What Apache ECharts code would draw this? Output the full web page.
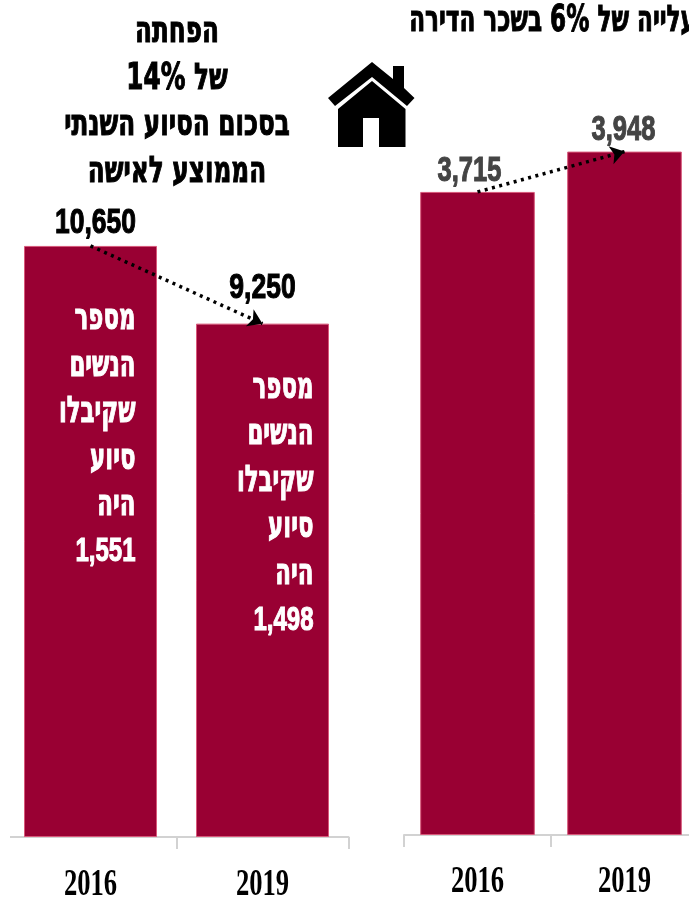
<!DOCTYPE html>
<html lang="he" dir="rtl"><head><meta charset="utf-8">
<style>html,body{margin:0;padding:0;background:#fff;overflow:hidden;width:689px;height:899px}#c{position:absolute;left:0;top:0;width:710px;height:899px}</style>
<script src="https://cdn.jsdelivr.net/npm/echarts@6/dist/echarts.min.js"></script></head>
<body><div id="c"></div>
<script>
const years = ['2016', '2019'];
const grantPerWoman = [10650, 9250];
const rentValues = [3715, 3948];
const womenCounts = [1551, 1498];
const leftTitleLines = ['הפחתה', 'של 14%', 'בסכום הסיוע השנתי', 'הממוצע לאישה'];
const rightTitle = 'עלייה של 6% בשכר הדירה';

const fmt = v => v.toLocaleString('en-US');
const HEB = "'DejaVu Sans'";
const NUM = "'Liberation Sans'";
const chart = echarts.init(document.getElementById('c'), null, {renderer: 'canvas', width: 710, height: 899});

function textEl(text, x, y, o) {
  const fill = o.fill || '#000';
  return {type: 'text', x, y, scaleX: o.sx, scaleY: o.sy, silent: true, z: o.z || 20,
    style: {text, fill, stroke: fill, lineWidth: o.lw === undefined ? 0.8 : o.lw, align: o.align || 'center', verticalAlign: 'middle',
      font: 'bold ' + o.size + 'px ' + (o.fam || HEB)}};
}
function valueLabels(values, fill, offs) {
  return {type: 'custom', xAxisIndex: offs.ax, yAxisIndex: offs.ax, z: 20, silent: true,
    data: values.map((v, i) => [i, v]),
    renderItem: (p, api) => {
      const pt = api.coord([api.value(0), api.value(1)]);
      return textEl(fmt(api.value(1)), pt[0] + offs.dx[p.dataIndex], pt[1] - offs.dy[p.dataIndex],
        {size: 25, sx: offs.sx, sy: 1.38, fam: NUM, fill});
    }};
}
function yearLabels(ax) {
  return {type: 'custom', xAxisIndex: ax, yAxisIndex: ax, z: 20, silent: true,
    data: years.map((y, i) => [i, 0]),
    renderItem: (p, api) => {
      const pt = api.coord([api.value(0), 0]);
      return textEl(years[p.dataIndex], pt[0], pt[1] + 47 + (ax ? 0 : 1),
        {size: 38, sx: 0.7, sy: 1.0, fam: "'Liberation Serif'", lw: 0});
    }};
}
function insideLabels() {
  return {type: 'custom', xAxisIndex: 0, yAxisIndex: 0, z: 20, silent: true,
    data: grantPerWoman.map((v, i) => [i, v, womenCounts[i]]),
    renderItem: (p, api) => {
      const pt = api.coord([api.value(0), api.value(1)]);
      const words = ['מספר', 'הנשים', 'שקיבלו', 'סיוע', 'היה', fmt(api.value(2))];
      return {type: 'group', children: words.map((w, k) =>
        textEl(w, pt[0] + 45 + (p.dataIndex ? 6 : 0), pt[1] + 74 + (p.dataIndex ? -9 : 0) + k * 46.4,
          k === 5 ? {size: 24, sx: 1.0, sy: 1.36, fam: NUM, fill: '#fff', align: 'right'}
                  : {size: 26, sx: 0.88, sy: 1.4, fill: '#fff', align: 'right'}))};
    }};
}
function bars(ax, values, width) {
  return {type: 'bar', xAxisIndex: ax, yAxisIndex: ax, data: values, barWidth: width,
    itemStyle: {color: '#990033', borderColor: '#d8587a', borderWidth: 1},
    markLine: {silent: true, animation: false, symbol: ['none', 'arrow'], symbolSize: 14,
      lineStyle: {color: '#000', type: [3, 4.5], width: 3.5, opacity: 1}, label: {show: false},
      data: [[{coord: [years[0], values[0]]}, {coord: [years[1], values[1]]}]]}};
}
const xAxis = gi => ({type: 'category', gridIndex: gi, data: years,
  axisLine: {show: true, lineStyle: {color: '#d2d2d2', width: 2}},
  axisTick: {show: true, length: 12, lineStyle: {color: '#d2d2d2', width: 2}},
  axisLabel: {show: false}, splitLine: {show: false}});
const yAxis = (gi, max) => ({type: 'value', gridIndex: gi, min: 0, max, show: false, splitLine: {show: false}});

const roof = [[372,62],[393,79],[393,66],[404,66],[404,88],[414.5,98],[407,106],[372,77],[335,106],[328,98]];
const body = [[372,81],[405.5,109],[405.5,147],[379,147],[379,118],[363,118],[363,147],[338,147],[338,109]];
const titleStyle = t => ({text: t, font: 'bold 26px ' + HEB, fill: '#000', stroke: '#000', lineWidth: 0.8, align: 'center', verticalAlign: 'middle'});

chart.setOption({
  animation: false, backgroundColor: '#fff',
  grid: [
    {left: 4.5, width: 344, top: 171, height: 666},
    {left: 404, width: 294, top: 142.6, height: 692.4}
  ],
  xAxis: [xAxis(0), xAxis(1)],
  yAxis: [yAxis(0, 12000), yAxis(1, 4000)],
  series: [
    bars(0, grantPerWoman, 133),
    bars(1, rentValues, 114.6),
    valueLabels(grantPerWoman, '#000', {ax: 0, dx: [5, 0], dy: [22, 35], sx: 1.06}),
    valueLabels(rentValues, '#444', {ax: 1, dx: [-8, -1], dy: [20, 21], sx: 1.02}),
    insideLabels(), yearLabels(0), yearLabels(1)
  ],
  graphic: {elements: [
    {type: 'rect', z: 100, shape: {x: 0, y: 828, width: 10, height: 30}, style: {fill: '#fff'}, silent: true},
    {type: 'polygon', z: 100, silent: true, shape: {points: roof}, style: {fill: '#000'}},
    {type: 'polygon', z: 100, silent: true, shape: {points: body}, style: {fill: '#000'}},
    ...leftTitleLines.map((t, i) => ({type: 'text', z: 100, silent: true, x: 177, y: 33 + i * 46.4, scaleX: 0.95, scaleY: 1.4,
      style: titleStyle(t)})),
    {type: 'text', z: 100, silent: true, x: 696, y: 22, scaleX: 0.89, scaleY: 1.4,
      style: Object.assign(titleStyle(rightTitle), {align: 'right'})}
  ]}
});
</script></body></html>
